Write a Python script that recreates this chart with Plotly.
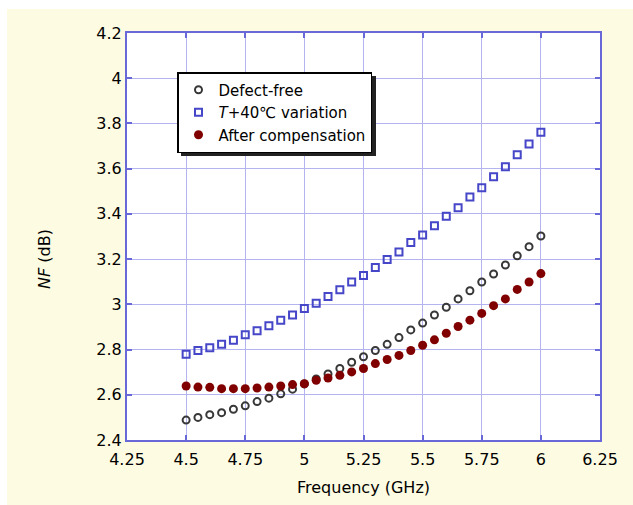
import plotly.graph_objects as go

freq = [4.50, 4.55, 4.60, 4.65, 4.70, 4.75, 4.80, 4.85, 4.90, 4.95,
        5.00, 5.05, 5.10, 5.15, 5.20, 5.25, 5.30, 5.35, 5.40, 5.45,
        5.50, 5.55, 5.60, 5.65, 5.70, 5.75, 5.80, 5.85, 5.90, 5.95, 6.00]

nf_defect_free = [2.488, 2.500, 2.512, 2.521, 2.536, 2.551, 2.570, 2.585, 2.604, 2.625,
                  2.648, 2.670, 2.692, 2.716, 2.744, 2.768, 2.796, 2.823, 2.853, 2.887,
                  2.917, 2.953, 2.987, 3.024, 3.060, 3.099, 3.134, 3.174, 3.215, 3.255, 3.302]

nf_temp_var = [2.779, 2.796, 2.808, 2.823, 2.841, 2.865, 2.883, 2.905, 2.930, 2.953,
               2.982, 3.005, 3.035, 3.064, 3.099, 3.128, 3.163, 3.198, 3.232, 3.273,
               3.307, 3.348, 3.390, 3.427, 3.475, 3.516, 3.564, 3.609, 3.661, 3.709, 3.761]

nf_compensated = [2.639, 2.634, 2.633, 2.627, 2.627, 2.627, 2.630, 2.634, 2.639, 2.645,
                  2.649, 2.664, 2.674, 2.686, 2.701, 2.716, 2.738, 2.756, 2.774, 2.796,
                  2.819, 2.843, 2.872, 2.902, 2.930, 2.960, 2.994, 3.024, 3.066, 3.099, 3.136]

x_ticks = [4.25, 4.5, 4.75, 5.0, 5.25, 5.5, 5.75, 6.0, 6.25]
x_ticklabels = ["4.25", "4.5", "4.75", "5", "5.25", "5.5", "5.75", "6", "6.25"]
y_ticks = [2.4, 2.6, 2.8, 3.0, 3.2, 3.4, 3.6, 3.8, 4.0, 4.2]
y_ticklabels = ["2.4", "2.6", "2.8", "3", "3.2", "3.4", "3.6", "3.8", "4", "4.2"]

series_names = ["Defect-free", "<i>T</i>+40\u2103 variation", "After compensation"]

W, H = 633, 505
ML, MR, MT, MB = 127, 33, 33, 65
PW, PH = W - ML - MR, H - MT - MB

def px(xp):
    return (xp - ML) / PW

def py(yp):
    return (H - MB - yp) / PH

FONT = "DejaVu Sans"
AXIS_COLOR = "#6868D8"
GRID_COLOR = "#B4B4F0"

fig = go.Figure()
fig.add_trace(go.Scatter(
    x=freq, y=nf_defect_free, mode="markers", name=series_names[0],
    marker=dict(symbol="circle-open", size=7, color="#383838", line=dict(width=2, color="#383838"))))
fig.add_trace(go.Scatter(
    x=freq, y=nf_temp_var, mode="markers", name=series_names[1],
    marker=dict(symbol="square-open", size=7, color="#4646C8", line=dict(width=2, color="#4646C8"))))
fig.add_trace(go.Scatter(
    x=freq, y=nf_compensated, mode="markers", name=series_names[2],
    marker=dict(symbol="circle", size=9, color="#800000", line=dict(width=0))))

shapes = [
    dict(type="rect", xref="paper", yref="paper", x0=px(7), x1=px(W + 5), y0=py(H + 5), y1=py(9),
         fillcolor="#FDFBE1", line=dict(width=0), layer="below"),
    dict(type="rect", xref="paper", yref="paper", x0=0, x1=1, y0=0, y1=1,
         fillcolor="white", line=dict(width=0), layer="below"),
    dict(type="rect", xref="paper", yref="paper", x0=px(181), x1=px(376), y0=py(156), y1=py(76),
         fillcolor="#222222", line=dict(width=0), layer="above"),
]

fig.update_layout(
    width=W, height=H,
    margin=dict(l=ML, r=MR, t=MT, b=MB, pad=0),
    paper_bgcolor="white",
    plot_bgcolor="rgba(0,0,0,0)",
    font=dict(family=FONT, size=16, color="black"),
    shapes=shapes,
    showlegend=True,
    legend=dict(
        x=px(177), y=py(72), xanchor="left", yanchor="top",
        bgcolor="white", bordercolor="black", borderwidth=1.5,
        font=dict(family=FONT, size=15, color="black"),
        tracegroupgap=0, itemwidth=30,
    ),
    annotations=[
        dict(text="<i>NF</i> (dB)", xref="paper", yref="paper", x=px(44), y=py(259),
             showarrow=False, textangle=-90, font=dict(family=FONT, size=16, color="black"),
             xanchor="center", yanchor="middle"),
    ],
)

fig.update_xaxes(
    range=[4.25, 6.25], tickvals=x_ticks, ticktext=x_ticklabels,
    showgrid=True, gridcolor=GRID_COLOR, gridwidth=1.2,
    showline=True, linecolor=AXIS_COLOR, linewidth=2, mirror="allticks",
    ticks="inside", ticklen=5, tickwidth=1.5, tickcolor=AXIS_COLOR,
    ticklabelstandoff=4,
    tickfont=dict(family=FONT, size=16, color="black"),
    title=dict(text="Frequency (GHz)", font=dict(family=FONT, size=16, color="black"), standoff=14),
    zeroline=False,
)
fig.update_yaxes(
    range=[2.4, 4.2], tickvals=y_ticks, ticktext=y_ticklabels,
    showgrid=True, gridcolor=GRID_COLOR, gridwidth=1.2,
    showline=True, linecolor=AXIS_COLOR, linewidth=2, mirror="allticks",
    ticks="inside", ticklen=5, tickwidth=1.5, tickcolor=AXIS_COLOR,
    tickfont=dict(family=FONT, size=16, color="black"),
    zeroline=False,
)

fig.write_html("out.html")
